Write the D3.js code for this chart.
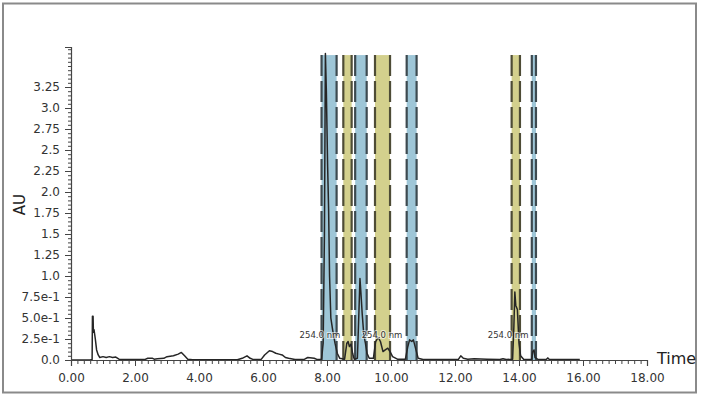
<!DOCTYPE html>
<html>
<head>
<meta charset="utf-8">
<script src="https://cdn.jsdelivr.net/npm/d3@7"></script>
<style>
  body { margin: 0; background: #fff; }
  text { font-family: "DejaVu Sans", Verdana, sans-serif; fill: #333; }
</style>
</head>
<body>
<div id="chart"></div>
<script>
// chromatogram trace (minutes, AU)
var times = [0, 0.6, 0.66, 0.67, 0.69, 0.7, 0.72, 0.76, 0.8, 0.85, 0.9, 1.0, 1.1, 1.2, 1.3, 1.4, 1.5, 1.6, 2.0, 2.3, 2.4, 2.55, 2.6, 2.7, 2.9, 3.0, 3.2, 3.35, 3.45, 3.55, 3.65, 3.8,
  5.2, 5.35, 5.5, 5.6, 5.7, 5.95, 6.05, 6.2, 6.3, 6.4, 6.5, 6.6, 6.7, 6.8, 7.0, 7.3, 7.4, 7.6, 7.7,
  7.83, 7.88, 7.92, 7.95, 7.98, 8.02, 8.05, 8.08, 8.12, 8.18, 8.25, 8.32, 8.4, 8.55, 8.62, 8.66, 8.7, 8.75, 8.8, 8.85,
  8.95, 9.0, 9.03, 9.06, 9.1, 9.15, 9.2, 9.25, 9.32, 9.45, 9.52, 9.6, 9.67, 9.75, 9.82, 9.9, 9.97, 10.05, 10.2,
  10.45, 10.52, 10.58, 10.65, 10.7, 10.78, 10.85, 11.0, 12.1, 12.18, 12.26, 12.4, 12.6, 13.0, 13.4, 13.5, 13.6,
  13.8, 13.84, 13.87, 13.9, 13.95, 14.0, 14.05, 14.15, 14.4, 14.43, 14.47, 14.5, 14.6, 14.85, 14.9, 14.95, 15.9];
var absorb = [0, 0, 0.005, 0.52, 0.52, 0.33, 0.36, 0.25, 0.12, 0.06, 0.03, 0.04, 0.03, 0.04, 0.03, 0.035, 0.01, 0.005, 0.005, 0.005, 0.02, 0.02, 0.01, 0.015, 0.02, 0.04, 0.05, 0.07, 0.09, 0.05, 0.01, 0.003,
  0.003, 0.02, 0.05, 0.02, 0.005, 0.01, 0.06, 0.11, 0.1, 0.08, 0.07, 0.06, 0.03, 0.02, 0.005, 0.01, 0.03, 0.02, 0.005,
  0.01, 0.2, 1.5, 3.65, 3.2, 2.3, 1.8, 1.0, 0.5, 0.35, 0.2, 0.08, 0.02, 0.01, 0.2, 0.22, 0.16, 0.19, 0.08, 0.01,
  0.02, 0.6, 0.97, 0.8, 0.55, 0.3, 0.2, 0.08, 0.02, 0.02, 0.22, 0.27, 0.22, 0.1, 0.12, 0.14, 0.1, 0.04, 0.01,
  0.01, 0.15, 0.24, 0.22, 0.24, 0.12, 0.02, 0.005, 0.005, 0.05, 0.02, 0.01, 0.015, 0.01, 0.005, 0.015, 0.005,
  0.01, 0.4, 0.81, 0.65, 0.6, 0.2, 0.05, 0.005, 0.01, 0.1, 0.12, 0.03, 0.005, 0.005, 0.025, 0.005, 0.005];

// integration windows
var bandStart = [7.83, 8.51, 8.88, 9.5, 10.49, 13.77, 14.4];
var bandEnd   = [8.3, 8.77, 9.24, 9.97, 10.8, 14.03, 14.53];
var bandKind  = ["blue", "yellow", "blue", "yellow", "blue", "yellow", "blue"];

// wavelength labels
var labelTimes = [7.78, 9.72, 13.66];
var labelText = ["254.0 nm", "254.0 nm", "254.0 nm"];

var xTicks = [0, 2, 4, 6, 8, 10, 12, 14, 16, 18];
var yTicks = [0, 0.25, 0.5, 0.75, 1.0, 1.25, 1.5, 1.75, 2.0, 2.25, 2.5, 2.75, 3.0, 3.25];
var yTickLabels = ["0.0", "2.5e-1", "5.0e-1", "7.5e-1", "1.0", "1.25", "1.5", "1.75", "2.0", "2.25", "2.5", "2.75", "3.0", "3.25"];

var svgWidth = 701, svgHeight = 399;
var margin = { top: 47, right: 55, bottom: 39, left: 71 };
var width = 18 * 32;
var height = svgHeight - margin.top - margin.bottom;

var svg = d3.select("#chart").append("svg")
  .attr("width", svgWidth)
  .attr("height", svgHeight);

// outer frame
svg.append("rect")
  .attr("x", 3).attr("y", 3.5)
  .attr("width", 693).attr("height", 389)
  .attr("fill", "none")
  .attr("stroke", "#8a8a8a")
  .attr("stroke-width", 2);

var chartGroup = svg.append("g")
  .attr("transform", `translate(${margin.left}, ${margin.top})`);

var x = d3.scaleLinear().domain([0, 18]).range([0, width]);
var y = d3.scaleLinear().domain([0, 313 / 84]).range([height, 0]);

// bands
var bandTop = y(3.63);
var colors = { blue: "#9ec6d7", yellow: "#d3d08d" };
var edgeColors = { blue: "#3d4a50", yellow: "#4e4c36" };

bandStart.forEach(function(s, i) {
  chartGroup.append("rect")
    .attr("x", x(s))
    .attr("y", bandTop)
    .attr("width", x(bandEnd[i]) - x(s))
    .attr("height", height - bandTop)
    .attr("fill", colors[bandKind[i]]);
  [s, bandEnd[i]].forEach(function(t) {
    chartGroup.append("line")
      .attr("x1", x(t)).attr("x2", x(t))
      .attr("y1", bandTop).attr("y2", height)
      .attr("stroke", edgeColors[bandKind[i]])
      .attr("stroke-width", 2.2)
      .attr("stroke-dasharray", "21,5");
  });
});

// trace
var trace = times.map(function(t, i) { return [t, absorb[i]]; });
var line = d3.line()
  .x(d => x(d[0]))
  .y(d => y(d[1]));

chartGroup.append("path")
  .datum(trace)
  .attr("d", line)
  .attr("fill", "none")
  .attr("stroke", "#262626")
  .attr("stroke-width", 1.5)
  .attr("stroke-linejoin", "round");

// wavelength labels (light halo so they read over the bands)
labelTimes.forEach(function(t, i) {
  chartGroup.append("text")
    .attr("x", x(t))
    .attr("y", y(0.3))
    .attr("text-anchor", "middle")
    .attr("dy", "0.35em")
    .style("font-size", "8.5px")
    .style("fill", "#333")
    .style("stroke", "rgba(255,255,255,0.6)")
    .style("stroke-width", 2)
    .style("paint-order", "stroke")
    .text(labelText[i]);
});

// axes
var xMinor = d3.axisBottom(x).tickValues(d3.range(0, 18.01, 0.2)).tickSize(4).tickFormat("");
var xMajor = d3.axisBottom(x).tickValues(xTicks).tickSize(6).tickPadding(7).tickFormat(d3.format(".2f"));
var yMinor = d3.axisLeft(y).tickValues(d3.range(0, 3.72, 0.05)).tickSize(3).tickFormat("");
var yMajor = d3.axisLeft(y).tickValues(yTicks).tickSize(6).tickPadding(5)
  .tickFormat((d, i) => yTickLabels[i]);

var gx1 = chartGroup.append("g").attr("transform", `translate(0, ${height})`).call(xMinor);
var gx2 = chartGroup.append("g").attr("transform", `translate(0, ${height})`).call(xMajor);
var gy1 = chartGroup.append("g").call(yMinor);
var gy2 = chartGroup.append("g").call(yMajor);

[gx1, gx2, gy1, gy2].forEach(function(g) {
  g.selectAll("path").attr("stroke", "#444").attr("stroke-width", 1.2);
  g.selectAll("line").attr("stroke", "#444");
  g.selectAll("text").style("font-size", "12px").style("fill", "#333");
});
gx1.select("path").remove();
gy1.select("path").remove();

// axis titles
chartGroup.append("text")
  .attr("x", width + 10)
  .attr("y", height + 4)
  .style("font-size", "16px")
  .style("fill", "#222")
  .text("Time");

chartGroup.append("text")
  .attr("transform", "rotate(-90)")
  .attr("x", -(y(1.85)))
  .attr("y", -46)
  .attr("text-anchor", "middle")
  .style("font-size", "15px")
  .style("fill", "#222")
  .text("AU");
</script>
</body>
</html>
